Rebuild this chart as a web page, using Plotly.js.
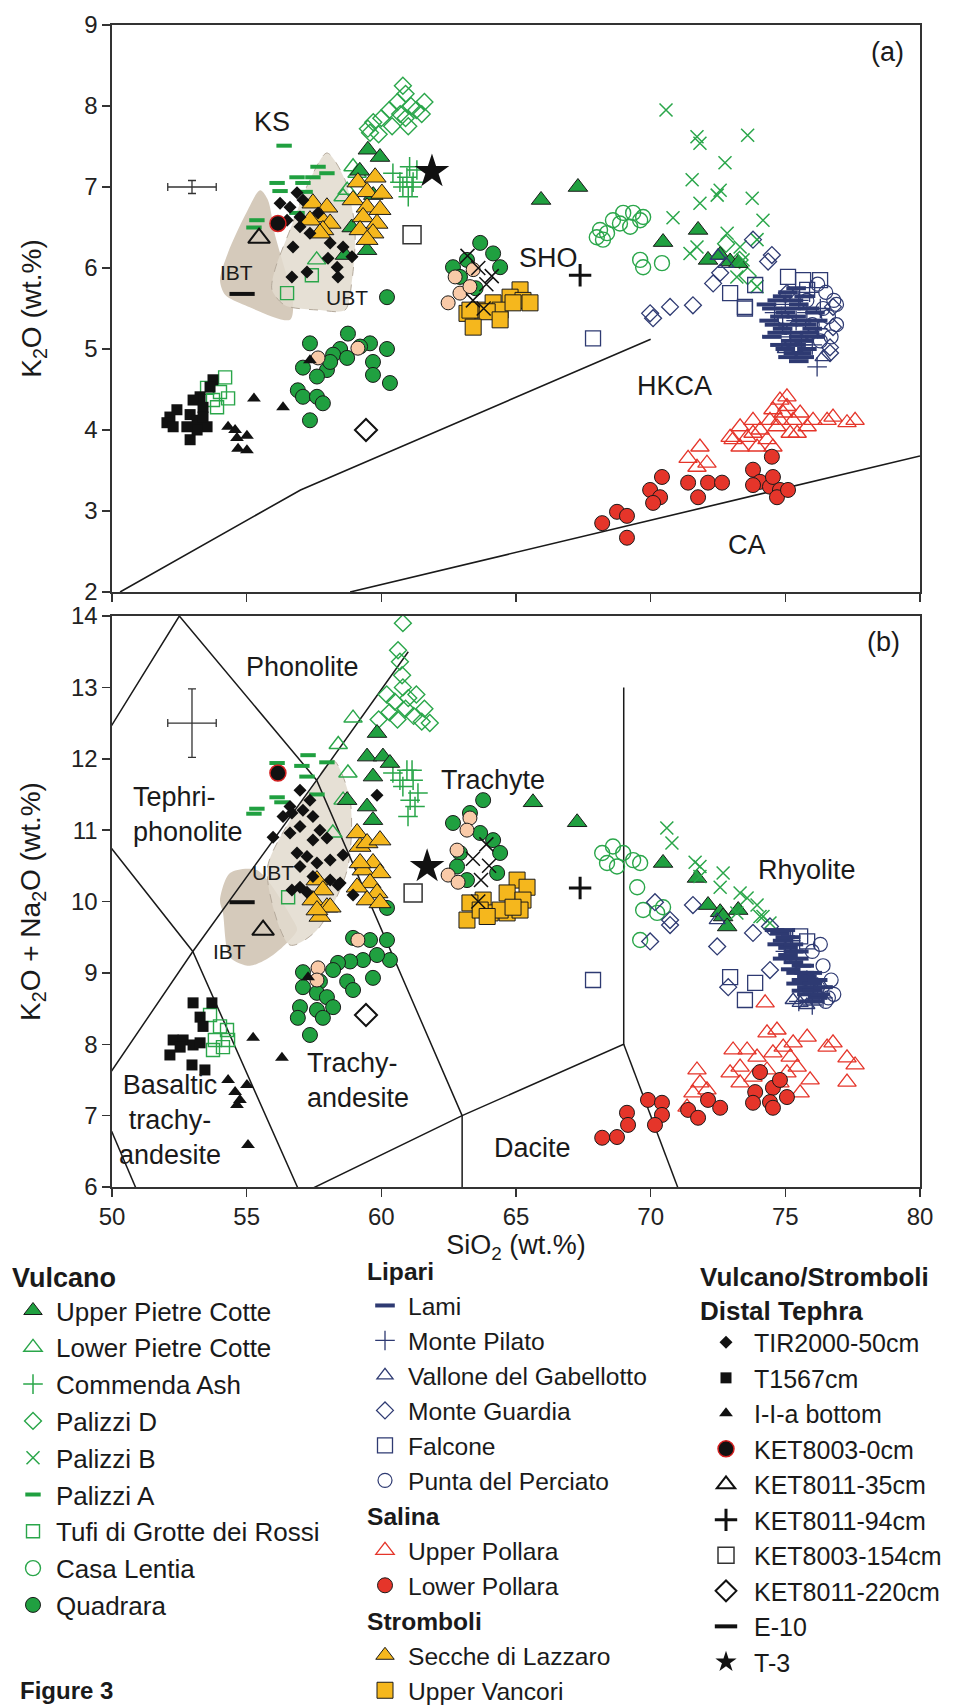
<!DOCTYPE html>
<html><head><meta charset="utf-8">
<script src="https://cdn.plot.ly/plotly-3.0.1.min.js"></script>
<style>html,body{margin:0;padding:0;background:#fff}</style>
</head><body>
<div id="chart" style="width:974px;height:1706px"></div>
<script>
// ---------------- DATA ----------------
// Vulcano
const upcA_x=[58.65,59.47,59.5,59.95,59.2,59.7,58.9,65.93,67.3,70.46,71.76,72.13,72.58,72.95,73.25];
const upcA_y=[6.16,6.22,7.46,7.37,7.2,6.9,6.5,6.84,7.0,6.32,6.47,6.1,6.16,6.08,6.06];
const upcB_x=[59.84,59.47,60.06,60.32,59.69,58.73,59.47,59.69,65.63,67.27,70.46,71.72,72.13,72.58,72.69,73.25,72.84];
const upcB_y=[12.36,12.03,12.03,11.94,11.75,11.42,11.33,11.14,11.39,11.11,10.54,10.33,9.95,9.85,9.79,9.88,9.65];
const lpcA_x=[58.95,58.73,59.1,57.6,58.58];
const lpcA_y=[7.25,6.96,7.17,6.1,6.88];
const lpcB_x=[58.95,58.76,58.58,58.2,58.4];
const lpcB_y=[12.57,11.8,11.42,10.96,12.2];
const comA_x=[60.95,61.14,60.69,61.18,60.43,61.32,61.0,60.8,61.05];
const comA_y=[7.12,7.0,7.06,7.06,7.17,7.21,6.88,7.0,7.25];
const comB_x=[60.95,61.18,60.8,61.07,61.25,60.69,60.43,60.99,61.36,61.14];
const comB_y=[11.84,11.7,11.61,11.42,11.33,11.7,11.8,11.19,11.52,11.84];
const palDA_x=[60.8,60.9,61.1,60.6,60.3,60.0,59.7,59.5,61.3,61.6,61.5,60.7,60.9,59.9,60.4,61.0,59.58,72.8,73.3,73.6];
const palDA_y=[8.25,8.15,8.0,8.05,7.95,7.85,7.8,7.72,7.95,8.05,7.9,7.9,7.85,7.65,7.75,7.75,7.67,6.3,6.1,5.9];
const palDB_x=[60.8,60.62,60.69,60.77,60.2,60.5,60.8,61.0,61.3,61.6,60.9,60.3,59.9,61.2,61.8,60.6,61.5];
const palDB_y=[13.9,13.52,13.36,13.17,12.9,12.8,13.0,12.85,12.9,12.7,12.7,12.65,12.55,12.6,12.5,12.55,12.52];
const palBA_x=[70.57,71.72,71.83,73.6,72.76,71.54,72.47,72.58,73.77,71.83,70.83,74.17,71.72,72.84,73.32,73.95,71.46,73.43,73.95,73.2];
const palBA_y=[7.95,7.62,7.54,7.64,7.3,7.09,6.9,6.96,6.86,6.8,6.62,6.59,6.26,6.43,6.26,6.35,6.18,6.1,5.77,5.89];
const palBB_x=[70.6,70.79,71.65,71.83,72.69,72.58,73.32,73.58,73.95,74.17,73.2,71.83,74.06,74.43];
const palBB_y=[11.03,10.82,10.55,10.49,10.4,10.2,10.12,10.05,9.95,9.79,9.84,10.35,9.79,9.7];
const palAA_x=[56.39,57.65,57.98,56.87,57.46,56.13,57.09,56.24,57.17,55.38,55.27,56.87];
const palAA_y=[7.51,7.25,7.17,7.12,7.12,7.05,7.05,6.95,6.94,6.59,6.5,6.68];
const palAB_x=[57.28,56.13,57.05,57.98,57.24,56.13,56.31,55.38,55.27,57.61];
const palAB_y=[12.05,11.94,11.9,11.95,11.75,11.46,11.39,11.3,11.23,11.5];
const tufA_x=[56.5,57.42,54.2,54.31,54.01,53.75,53.53,53.9];
const tufA_y=[5.69,5.91,4.65,4.39,4.47,4.37,4.52,4.28];
const tufB_x=[56.54,53.64,54.01,54.27,53.82,54.12,53.75,54.31];
const tufB_y=[10.06,8.41,8.25,8.2,8.06,7.96,7.92,8.06];
const casA_x=[68.12,68.6,68.98,69.35,69.61,68.38,68.23,69.72,69.24,68.86,69.61,70.42,69.72,68.0];
const casA_y=[6.47,6.59,6.68,6.68,6.59,6.43,6.35,6.63,6.51,6.55,6.1,6.06,6.01,6.38];
const casB_x=[68.2,68.6,68.98,69.35,68.75,68.38,69.61,69.5,69.72,69.61,70.24,70.46];
const casB_y=[10.68,10.77,10.68,10.58,10.49,10.54,10.54,10.2,9.88,9.46,9.84,9.92];
const quaA_x=[63.67,64.15,63.18,62.66,64.41,62.92,60.21,63.5,57.35,58.76,58.47,59.58,60.21,59.21,58.21,59.69,58.73,57.09,57.98,57.61,59.69,60.32,56.9,57.09,57.61,57.83,57.35,58.1];
const quaA_y=[6.31,6.18,6.1,6.01,6.01,5.89,5.64,5.75,5.07,5.19,5.0,5.07,5.0,5.03,4.93,4.84,4.89,4.77,4.74,4.66,4.68,4.58,4.49,4.41,4.41,4.33,4.12,4.84];
const quaB_x=[63.78,63.29,62.66,63.67,64.15,64.41,62.92,64.3,62.81,63.18,60.21,58.95,59.58,60.21,60.32,59.84,59.32,58.84,58.39,58.21,57.09,57.72,58.73,59.69,58.95,57.09,57.61,57.98,58.21,56.98,57.61,56.9,57.35,57.83];
const quaB_y=[11.42,11.24,11.1,10.96,10.86,10.68,10.68,10.4,10.49,10.3,9.91,9.49,9.46,9.46,9.18,9.25,9.18,9.16,9.14,9.04,9.01,8.88,8.88,8.93,8.76,8.8,8.72,8.66,8.52,8.52,8.48,8.37,8.13,8.37];
// Lipari
const lamA_x=[74.3,74.5,74.7,74.9,75.1,75.3,75.5,75.7,75.9,76.1,74.4,74.6,74.8,75.0,75.2,75.4,75.6,75.8,76.0,76.2,74.5,74.7,74.9,75.1,75.3,75.5,75.7,75.9,76.1,74.8,75.0,75.2,75.4,75.6,75.8,75.1,75.3,75.5,75.7,75.4];
const lamA_y=[5.55,5.5,5.6,5.65,5.7,5.6,5.55,5.65,5.5,5.45,5.35,5.3,5.4,5.45,5.5,5.4,5.35,5.3,5.25,5.35,5.15,5.2,5.25,5.3,5.2,5.15,5.1,5.2,5.15,5.05,5.0,5.1,5.05,4.95,5.0,4.9,4.95,4.85,4.9,5.75];
const lamB_x=[74.6,74.8,75.0,75.2,74.7,74.9,75.1,75.3,75.5,74.9,75.1,75.3,75.5,75.7,75.2,75.4,75.6,75.8,76.0,75.4,75.6,75.8,76.0,76.2,75.6,75.8,76.0,76.2,76.4,75.9,76.1,76.3,75.0,75.3,75.7];
const lamB_y=[9.6,9.55,9.6,9.5,9.4,9.45,9.35,9.4,9.3,9.2,9.25,9.15,9.2,9.1,9.05,9.0,9.1,8.95,9.0,8.85,8.9,8.8,8.85,8.9,8.75,8.7,8.75,8.65,8.8,8.6,8.6,8.7,9.5,9.3,9.0];
const pilA_x=[74.6,75.0,75.4,75.8,76.2,75.2,75.6,76.0,74.9,75.5,75.9,76.3,76.18];
const pilA_y=[5.45,5.55,5.35,5.45,5.25,5.15,5.05,5.05,5.3,5.6,5.7,5.5,4.78];
const pilB_x=[75.0,75.4,75.8,76.2,75.5,76.0,76.4,75.2];
const pilB_y=[9.3,9.2,8.9,8.8,8.6,8.55,8.65,9.45];
const valA_x=[72.5,72.8,75.0,76.4];
const valA_y=[6.15,6.05,5.0,4.9];
const valB_x=[75.55,75.29,72.47,75.8];
const valB_y=[8.58,8.62,9.74,8.55];
const guaA_x=[70.09,69.98,70.72,71.57,73.8,74.5,74.36,72.58,72.32,75.06,74.99,76.77,76.77,76.66,76.66];
const guaA_y=[5.38,5.44,5.52,5.54,6.35,6.16,6.08,5.94,5.81,5.69,5.36,5.52,5.27,5.02,4.95];
const guaB_x=[70.16,70.72,69.98,70.72,71.57,72.47,72.88,73.8,74.43,74.43];
const guaB_y=[9.99,9.74,9.44,9.67,9.95,9.37,8.8,9.56,9.04,9.65];
const falA_x=[67.86,72.95,73.5,73.88,73.5,75.1,75.66,76.29,75.81];
const falA_y=[5.13,5.69,5.52,5.79,5.5,5.89,5.85,5.85,5.73];
const falB_x=[67.86,72.95,73.88,73.5,75.81,75.55];
const falB_y=[8.9,8.94,8.86,8.62,9.44,9.51];
const punA_x=[76.2,76.5,76.8,76.4,76.0,76.6,76.9,76.3,75.8,76.7,76.9];
const punA_y=[5.8,5.7,5.6,5.5,5.3,5.4,5.3,5.1,5.6,5.15,5.55];
const punB_x=[76.0,76.4,76.7,76.2,76.5,76.8,75.9,76.3,76.6];
const punB_y=[9.3,9.1,8.9,8.8,8.6,8.7,8.9,9.4,8.65];
// Salina
const uppA_x=[71.39,71.83,71.72,72.09,72.95,73.32,73.58,73.8,74.06,74.43,74.54,74.8,75.06,74.92,74.69,75.29,75.55,75.81,75.18,74.32,73.95,73.32,74.54,76.55,76.77,77.29,77.59,76.03,73.8,73.06,75.06,74.8,75.44];
const uppA_y=[3.65,3.79,3.54,3.59,3.91,4.04,3.91,4.12,4.0,4.12,4.25,4.37,4.41,4.21,4.04,4.12,4.21,4.04,3.96,3.88,3.79,3.79,3.79,4.12,4.16,4.09,4.12,4.12,3.96,3.88,4.29,4.12,3.96];
const uppB_x=[71.72,71.83,71.57,71.35,72.09,73.06,73.32,73.58,72.95,73.32,74.32,74.69,74.92,74.54,75.18,75.44,75.06,74.8,75.81,76.55,76.77,77.29,77.59,77.29,75.55,74.32,73.95,75.29,74.25,75.92,73.8];
const uppB_y=[7.64,7.46,7.32,7.12,7.36,7.92,7.68,7.92,7.6,7.46,8.16,8.2,7.96,7.88,7.82,7.68,7.6,7.46,8.1,7.96,8.02,7.81,7.71,7.47,7.32,7.64,7.82,8.02,8.58,7.5,7.54];
const lopA_x=[68.2,68.75,69.12,69.12,69.98,70.42,70.35,70.09,71.39,71.76,72.13,72.65,73.8,74.5,74.06,74.43,74.54,74.8,74.69,75.1,73.8];
const lopA_y=[2.85,2.99,2.94,2.67,3.26,3.42,3.17,3.1,3.35,3.17,3.35,3.35,3.51,3.67,3.36,3.3,3.42,3.26,3.17,3.26,3.32];
const lopB_x=[68.2,68.75,69.12,69.16,69.9,70.42,70.42,70.16,71.39,71.76,72.13,72.58,74.06,73.88,74.54,74.43,75.06,74.54,73.8,74.8];
const lopB_y=[6.69,6.7,7.04,6.87,7.22,7.18,7.01,6.87,7.08,6.97,7.22,7.11,7.61,7.33,7.39,7.19,7.26,7.11,7.18,7.5];
// Stromboli
const secA_x=[57.46,57.98,57.72,58.1,57.35,57.83,57.72,59.13,59.77,59.47,60.02,58.95,59.47,59.95,59.32,59.84,59.21,59.69,59.47];
const secA_y=[6.8,6.75,6.63,6.55,6.59,6.47,6.43,7.06,7.12,6.94,6.92,6.84,6.75,6.72,6.63,6.55,6.47,6.43,6.35];
const secB_x=[57.61,57.83,57.46,57.98,57.72,58.1,57.61,59.1,59.21,59.47,59.95,59.69,59.32,59.95,59.58,59.1,59.84,59.47,59.95,59.21];
const secB_y=[10.3,10.16,10.02,9.92,9.79,9.92,9.88,10.96,10.77,10.82,10.86,10.54,10.44,10.4,10.26,10.2,10.12,10.02,9.98,10.54];
const vanA_x=[65.15,64.78,63.67,64.15,63.18,64.41,65.26,63.29,64.89,63.93,65.52,63.41,64.41];
const vanA_y=[5.73,5.64,5.48,5.57,5.44,5.48,5.6,5.48,5.57,5.46,5.57,5.27,5.36];
const vanB_x=[65.04,65.41,64.67,65.26,63.78,63.29,64.04,64.67,65.15,63.18,63.67,64.41,64.89,63.93];
const vanB_y=[10.3,10.2,10.12,10.02,10.02,9.98,9.84,9.84,9.88,9.74,9.88,9.88,9.92,9.79];
const pchA_x=[62.74,62.92,62.48,63.29,63.41,57.65,59.13];
const pchA_y=[5.89,5.69,5.57,5.77,5.98,4.89,5.01];
const pchB_x=[63.29,63.18,62.81,62.48,62.85,59.13,57.65,57.61];
const pchB_y=[11.17,11.0,10.72,10.37,10.27,9.46,9.07,8.9];
const bxA_x=[63.6,63.9,63.4,64.1,63.2,63.8];
const bxA_y=[6.0,5.8,5.6,5.9,6.15,5.5];
const bxB_x=[63.4,63.7,64.0,63.6,63.9];
const bxB_y=[10.6,10.3,10.5,10.0,10.8];
// Distal tephra
const tirA_x=[56.24,56.61,56.87,57.09,56.5,56.98,57.35,56.72,58.1,58.58,58.02,58.91,58.36,58.39,56.68,57.24,56.98,57.65];
const tirA_y=[6.8,6.75,6.93,6.84,6.59,6.51,6.43,6.26,6.31,6.26,6.12,6.14,6.01,5.89,5.89,5.95,6.63,6.68];
const tirB_x=[56.98,57.35,56.61,57.09,56.35,57.46,56.98,57.72,56.61,55.98,57.46,57.98,56.87,57.24,58.1,58.58,57.61,56.98,57.46,58.1,58.47,56.98,56.68,57.24,58.39,58.95,59.84,56.68];
const tirB_y=[11.56,11.42,11.33,11.28,11.19,11.19,11.05,11.0,10.96,10.9,10.86,10.89,10.68,10.63,10.58,10.65,10.54,10.49,10.35,10.3,10.26,10.2,10.16,10.13,10.23,10.09,11.49,11.24];
const t15A_x=[52.15,52.41,52.04,52.9,53.27,53.01,53.38,53.53,52.9,53.75,53.64,53.16,53.38,53.16,52.27,52.78];
const t15A_y=[4.16,4.25,4.09,4.19,4.41,4.37,4.28,4.04,3.88,4.62,4.53,4.12,4.16,4.0,4.04,4.04];
const t15B_x=[53.01,53.71,53.27,53.38,52.27,52.64,53.01,53.27,52.15,52.53,52.97,53.45];
const t15B_y=[8.58,8.58,8.38,8.25,8.06,8.06,7.99,8.02,7.85,7.96,7.71,7.64];
const iiaA_x=[55.27,56.35,54.31,54.57,54.64,55.01,54.68,55.01,57.35];
const iiaA_y=[4.39,4.28,4.04,4.0,3.9,3.93,3.77,3.75,4.86];
const iiaB_x=[55.24,56.31,54.31,55.01,54.57,54.75,54.64,55.05,57.28];
const iiaB_y=[8.09,7.81,7.5,7.43,7.33,7.22,7.15,6.59,8.94];
const k0A_x=[56.16], k0A_y=[6.55], k0B_x=[56.16], k0B_y=[11.8];
const k35A_x=[55.46], k35A_y=[6.37], k35B_x=[55.61], k35B_y=[9.6];
const k94A_x=[67.38], k94A_y=[5.91], k94B_x=[67.38], k94B_y=[10.19];
const k154A_x=[61.14], k154A_y=[6.41], k154B_x=[61.18], k154B_y=[10.12];
const k220A_x=[59.43], k220A_y=[4.0], k220B_x=[59.43], k220B_y=[8.41];
const e10A_x=[54.83], e10A_y=[5.68], e10B_x=[54.83], e10B_y=[9.99];
const t3A_x=[61.88], t3A_y=[7.19], t3B_x=[61.7], t3B_y=[10.49];
// Fields (IBT, UBT)
const ibtA_x=[55.5,54.94,54.31,54.01,54.2,54.94,56.61,56.72,56.42,56.05,55.79,55.5];
const ibtA_y=[6.96,6.65,6.19,5.85,5.67,5.54,5.36,5.6,5.98,6.41,6.84,6.96];
const ubtA_x=[57.98,57.35,56.61,56.05,55.94,56.42,57.72,58.65,58.91,59.02,58.65,57.98];
const ubtA_y=[7.42,7.09,6.47,5.98,5.73,5.54,5.48,5.48,5.85,6.47,7.09,7.42];
const ubtB_x=[58.21,58.84,58.73,57.61,56.61,55.76,56.61,57.46,58.21];
const ubtB_y=[11.98,11.42,10.44,9.6,9.39,10.44,11.14,11.63,11.98];
const ibtB_x=[54.38,55.38,56.72,56.87,55.98,55.12,54.38,54.12,54.01,54.38];
const ibtB_y=[10.4,10.44,9.74,9.6,9.25,9.1,9.22,9.84,10.02,10.4];
// Classification lines
const shoLine_x=[50.3,57.0,70.0], shoLine_y=[2,3.26,5.12];
const caLine_x=[58.84,80], caLine_y=[2,3.68];
const tas_x=[48.4,52.5,57.6,63,null,48.4,53,57,null,45,49.4,53,57.6,61,null,49.4,52,null,52,57,63,69,69,null,63,63,null,69,77];
const tas_y=[11.5,14,11.7,7,null,11.5,9.3,5.9,null,5,7.3,9.3,11.7,13.5,null,7.3,5,null,5,5.9,7,8,13,null,5,7,null,8,0];
// Analytical error bars
const errA_x=[52.97], errA_y=[7.0], errA_dx=[0.9], errA_dy=[0.08];
const errB_x=[52.97], errB_y=[12.5], errB_dx=[0.9], errB_dy=[0.48];
// Labels
const labA_text=['KS','SHO','HKCA','CA','(a)','IBT','UBT'];
const labA_x=[55.94,66.2,70.9,73.58,78.8,54.64,58.73];
const labA_y=[7.8,6.12,4.54,2.58,8.67,5.94,5.64];
const labB_text=['Phonolite','Trachyte','Rhyolite','Dacite','(b)','UBT','IBT'];
const labB_x=[57.09,64.15,75.81,65.6,78.63,55.98,54.38];
const labB_y=[13.29,11.7,10.44,6.55,13.64,10.4,9.3];

// ---------------- STYLE ----------------
const FONT='Arial, "Liberation Sans", Helvetica, sans-serif';
const G='#20a040', GL='#2aa64a', NV='#2e3a72', RD='#e5352a', YL='#f5b71d', PCH='#f9caa8', BK='#111111', OL='#1a1a1a';
const traces=[];
function fieldTrace(x,y,xa,ya,fill,dash){
  traces.push({x:x,y:y,xaxis:xa,yaxis:ya,mode:'lines',fill:'toself',fillcolor:fill,
    line:{color:dash?'#b5aa9c':'rgba(0,0,0,0)',width:1,dash:'dash',shape:'spline',smoothing:0.8},
    showlegend:false,hoverinfo:'skip'});
}
fieldTrace(ibtA_x,ibtA_y,'x','y','#d5cabb',false);
fieldTrace(ubtA_x,ubtA_y,'x','y','rgba(226,218,206,0.85)',true);
fieldTrace(ibtB_x,ibtB_y,'x2','y2','#d5cabb',false);
fieldTrace(ubtB_x,ubtB_y,'x2','y2','rgba(226,218,206,0.85)',true);
traces.push({x:shoLine_x,y:shoLine_y,xaxis:'x',yaxis:'y',mode:'lines',line:{color:'#1a1a1a',width:1.6},showlegend:false,hoverinfo:'skip'});
traces.push({x:caLine_x,y:caLine_y,xaxis:'x',yaxis:'y',mode:'lines',line:{color:'#1a1a1a',width:1.6},showlegend:false,hoverinfo:'skip'});
traces.push({x:tas_x,y:tas_y,xaxis:'x2',yaxis:'y2',mode:'lines',line:{color:'#1a1a1a',width:1.5},showlegend:false,hoverinfo:'skip',connectgaps:false});
traces.push({x:errA_x,y:errA_y,xaxis:'x',yaxis:'y',mode:'markers',marker:{size:1,color:'rgba(0,0,0,0)'},
  error_x:{type:'data',array:errA_dx,color:'#333',thickness:1.3,width:4},error_y:{type:'data',array:errA_dy,color:'#333',thickness:1.3,width:4},showlegend:false,hoverinfo:'skip'});
traces.push({x:errB_x,y:errB_y,xaxis:'x2',yaxis:'y2',mode:'markers',marker:{size:1,color:'rgba(0,0,0,0)'},
  error_x:{type:'data',array:errB_dx,color:'#333',thickness:1.3,width:4},error_y:{type:'data',array:errB_dy,color:'#333',thickness:1.3,width:4},showlegend:false,hoverinfo:'skip'});

// open marker helper: stroke colour of "-open" symbols comes from marker.color
const open=(symbol,size,color,width)=>({symbol:symbol,size:size,color:color,line:{color:color,width:width}});
const solid=(symbol,size,color,lc,lw)=>({symbol:symbol,size:size,color:color,line:{color:lc||color,width:lw||0}});

function series(name,ax,ay,bx,by,marker,legend,rank,group,show){
  const common={mode:'markers',name:name,marker:marker,legendrank:rank,hoverinfo:'name'};
  const t1=Object.assign({x:ax,y:ay,xaxis:'x',yaxis:'y',legend:legend,showlegend:show!==false},common);
  if(group){t1.legendgroup=group; t1.legendgrouptitle={text:group};}
  const t2=Object.assign({x:bx,y:by,xaxis:'x2',yaxis:'y2',showlegend:false},common);
  if(group) t2.legendgroup=group;
  traces.push(t1); traces.push(t2);
}
// draw order (bottom to top)
series('Palizzi D',palDA_x,palDA_y,palDB_x,palDB_y,open('diamond-open',13,GL,1.4),'legend',4);
series('Commenda Ash',comA_x,comA_y,comB_x,comB_y,open('cross-thin-open',14,GL,1.5),'legend',3);
series('Lower Pietre Cotte',lpcA_x,lpcA_y,lpcB_x,lpcB_y,open('triangle-up-open',16,GL,1.4),'legend',2);
series('Upper Pietre Cotte',upcA_x,upcA_y,upcB_x,upcB_y,solid('triangle-up',17,G,OL,1),'legend',1);
series('Casa Lentia',casA_x,casA_y,casB_x,casB_y,open('circle-open',15,GL,1.4),'legend',8);
series('Palizzi B',palBA_x,palBA_y,palBB_x,palBB_y,open('x-thin-open',13,GL,1.5),'legend',5);
series('Tufi di Grotte dei Rossi',tufA_x,tufA_y,tufB_x,tufB_y,open('square-open',13,GL,1.4),'legend',7);
series('Quadrara',quaA_x,quaA_y,quaB_x,quaB_y,solid('circle',15,G,OL,1),'legend',9);
series('Stromboli (other)',pchA_x,pchA_y,pchB_x,pchB_y,solid('circle',14,PCH,OL,1),'legend2',99,null,false);
series('Palizzi A',palAA_x,palAA_y,palAB_x,palAB_y,open('line-ew-open',11,G,4),'legend',6);
series('Punta del Perciato',punA_x,punA_y,punB_x,punB_y,open('circle-open',14,NV,1.2),'legend2',16,'Lipari');
series('Falcone',falA_x,falA_y,falB_x,falB_y,open('square-open',15,NV,1.3),'legend2',15,'Lipari');
series('Monte Guardia',guaA_x,guaA_y,guaB_x,guaB_y,open('diamond-open',13,NV,1.3),'legend2',14,'Lipari');
series('Vallone del Gabellotto',valA_x,valA_y,valB_x,valB_y,open('triangle-up-open',14,NV,1.3),'legend2',13,'Lipari');
series('Monte Pilato',pilA_x,pilA_y,pilB_x,pilB_y,open('cross-thin-open',14,NV,1.3),'legend2',12,'Lipari');
series('Lami',lamA_x,lamA_y,lamB_x,lamB_y,open('line-ew-open',14,NV,4),'legend2',11,'Lipari');
series('Upper Pollara',uppA_x,uppA_y,uppB_x,uppB_y,open('triangle-up-open',16,RD,1.3),'legend2',21,'Salina');
series('Lower Pollara',lopA_x,lopA_y,lopB_x,lopB_y,solid('circle',15,RD,OL,1),'legend2',22,'Salina');
series('Secche di Lazzaro',secA_x,secA_y,secB_x,secB_y,solid('triangle-up',19,YL,OL,1),'legend2',31,'Stromboli');
series('Upper Vancori',vanA_x,vanA_y,vanB_x,vanB_y,solid('square',16,YL,OL,1),'legend2',32,'Stromboli');
series('Stromboli x',bxA_x,bxA_y,bxB_x,bxB_y,open('x-thin-open',14,BK,1.5),'legend2',98,null,false);
series('TIR2000-50cm',tirA_x,tirA_y,tirB_x,tirB_y,solid('diamond',10,BK),'legend3',41);
series('T1567cm',t15A_x,t15A_y,t15B_x,t15B_y,solid('square',11,BK),'legend3',42);
series('I-I-a bottom',iiaA_x,iiaA_y,iiaB_x,iiaB_y,solid('triangle-up',12,BK),'legend3',43);
series('KET8003-0cm',k0A_x,k0A_y,k0B_x,k0B_y,solid('circle',16,BK,'#d42020',1.5),'legend3',44);
series('KET8011-35cm',k35A_x,k35A_y,k35B_x,k35B_y,open('triangle-up-open',19,BK,2),'legend3',45);
series('KET8011-94cm',k94A_x,k94A_y,k94B_x,k94B_y,open('cross-thin-open',16,BK,3),'legend3',46);
series('KET8003-154cm',k154A_x,k154A_y,k154B_x,k154B_y,open('square-open',18,'#333',1.5),'legend3',47);
series('KET8011-220cm',k220A_x,k220A_y,k220B_x,k220B_y,open('diamond-open',17,BK,2),'legend3',48);
series('E-10',e10A_x,e10A_y,e10B_x,e10B_y,open('line-ew-open',18,BK,4),'legend3',49);
series('T-3',t3A_x,t3A_y,t3B_x,t3B_y,solid('star',26,BK),'legend3',50);

// ---------------- LAYOUT ----------------
// plot area in page pixels: x 112..920, y 25..1187
const W=974,H=1706,L=112,R=54,T=25,B=519;
const PW=W-L-R, PH=H-T-B;
const px=v=>(v-L)/PW, py=v=>(H-B-v)/PH;   // page pixel -> paper fraction
const axisCommon={showline:true,linecolor:'#333',linewidth:1.6,mirror:true,ticks:'outside',ticklen:8,tickwidth:1.5,tickcolor:'#333',
  showgrid:false,zeroline:false,tickfont:{family:FONT,size:24,color:'#222'}};
const annotations=[];
labA_text.forEach((t,i)=>annotations.push({xref:'x',yref:'y',x:labA_x[i],y:labA_y[i],text:t,showarrow:false,
  font:{family:FONT,size:(t==='IBT'||t==='UBT')?21:27,color:'#1a1a1a'}}));
labB_text.forEach((t,i)=>annotations.push({xref:'x2',yref:'y2',x:labB_x[i],y:labB_y[i],text:t,showarrow:false,
  font:{family:FONT,size:(t==='IBT'||t==='UBT')?21:27,color:'#1a1a1a'}}));
annotations.push({xref:'x2',yref:'y2',x:50.7,y:11.22,xanchor:'left',align:'left',text:'Tephri-<br>phonolite',showarrow:false,font:{family:FONT,size:27,color:'#1a1a1a'}});
annotations.push({xref:'x2',yref:'y2',x:57.17,y:7.49,xanchor:'left',align:'left',text:'Trachy-<br>andesite',showarrow:false,font:{family:FONT,size:27,color:'#1a1a1a'}});
annotations.push({xref:'x2',yref:'y2',x:52.15,y:6.94,align:'center',text:'Basaltic<br>trachy-<br>andesite',showarrow:false,font:{family:FONT,size:27,color:'#1a1a1a'}});
annotations.push({xref:'paper',yref:'paper',x:px(18),y:py(1690),xanchor:'left',yanchor:'middle',text:'<b>Figure 3</b>',showarrow:false,font:{family:FONT,size:24,color:'#1a1a1a'}});

const legendCommon={xanchor:'left',yanchor:'top',bgcolor:'rgba(0,0,0,0)',
  tracegroupgap:0,itemsizing:'trace',itemwidth:36,y:py(1252)};
const lfont=s=>({family:FONT,size:s,color:'#1a1a1a'});
const layout={
  width:W,height:H,margin:{l:L,r:R,t:T,b:B,autoexpand:false},paper_bgcolor:'#fff',plot_bgcolor:'#fff',
  font:{family:FONT,color:'#1a1a1a'},
  xaxis:Object.assign({},axisCommon,{domain:[0,1],range:[50,80],dtick:5,anchor:'y',showticklabels:false}),
  yaxis:Object.assign({},axisCommon,{domain:[py(592),1],range:[2,9],dtick:1,anchor:'x',automargin:true,
    title:{text:'K<sub>2</sub>O (wt.%)',font:{family:FONT,size:28,color:'#1a1a1a'},standoff:34}}),
  xaxis2:Object.assign({},axisCommon,{domain:[0,1],range:[50,80],dtick:5,anchor:'y2',automargin:true,
    title:{text:'SiO<sub>2</sub> (wt.%)',font:{family:FONT,size:27,color:'#1a1a1a'},standoff:0}}),
  yaxis2:Object.assign({},axisCommon,{domain:[0,py(616)],range:[6,14],dtick:1,anchor:'x2',automargin:true,
    title:{text:'K<sub>2</sub>O + Na<sub>2</sub>O (wt.%)',font:{family:FONT,size:28,color:'#1a1a1a'},standoff:22}}),
  legend:Object.assign({},legendCommon,{x:px(10),font:lfont(26),title:{text:'<b>Vulcano</b>',font:lfont(27)}}),
  legend2:Object.assign({},legendCommon,{x:px(362),y:py(1248),font:lfont(24.6),traceorder:'grouped',grouptitlefont:{family:FONT,size:24.6,weight:'bold',color:'#1a1a1a'}}),
  legend3:Object.assign({},legendCommon,{x:px(698),font:lfont(25),itemwidth:46,title:{text:'<b>Vulcano/Stromboli<br>Distal Tephra</b>',font:lfont(26)}}),
  annotations:annotations,
  showlegend:true
};
Plotly.newPlot('chart',traces,layout,{displayModeBar:false,staticPlot:true});
</script>
</body></html>
